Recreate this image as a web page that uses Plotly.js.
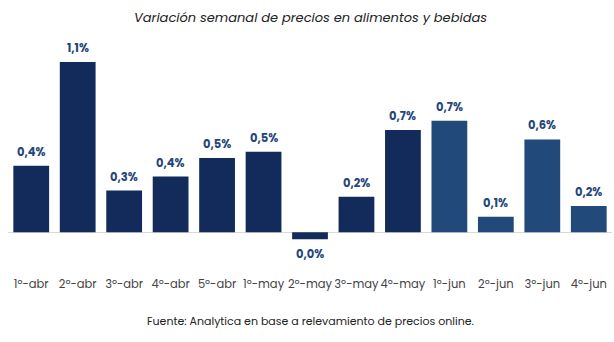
<!DOCTYPE html>
<html>
<head>
<meta charset="utf-8">
<script src="https://cdn.plot.ly/plotly-3.0.1.min.js"></script>
<style>html,body{margin:0;padding:0;background:#fff;}#chart{width:614px;height:342px;}</style>
</head>
<body>
<div id="chart"></div>
<script>
var categories = ["1º-abr","2º-abr","3º-abr","4º-abr","5º-abr","1º-may","2º-may","3º-may","4º-may","1º-jun","2º-jun","3º-jun","4º-jun"];
var values = [0.43, 1.10, 0.27, 0.36, 0.48, 0.52, -0.045, 0.23, 0.66, 0.72, 0.10, 0.60, 0.17];
var months = ["abr","abr","abr","abr","abr","may","may","may","may","jun","jun","jun","jun"];
var titleText = "Variación semanal de precios en alimentos y bebidas";
var sourceText = "Fuente: Analytica en base a relevamiento de precios online.";

var FONT = "Poppins, 'Open Sans', Lato, sans-serif";
var colors = months.map(function(m){ return m === "jun" ? "#214979" : "#122b5a"; });
function fmt(v){ return (Math.round(v*10)/10).toFixed(1).replace('.', ',') + '%'; }

var trace = {
  type: 'bar', x: categories, y: values,
  marker: {color: colors},
  hoverinfo: 'none'
};

var annotations = values.map(function(v, i){
  return {
    x: categories[i], y: v, xref: 'x', yref: 'y',
    text: '<b>' + fmt(v) + '</b>', showarrow: false,
    yanchor: v >= 0 ? 'bottom' : 'top',
    yshift: v >= 0 ? 4 : -5,
    font: {family: FONT, size: 11.5, color: '#25467a'}
  };
});
annotations.push({
  xref: 'paper', yref: 'paper', x: 0.5, y: 1, yanchor: 'middle',
  xanchor: 'center', yshift: 0, showarrow: false,
  text: '<i>' + titleText + '</i>',
  font: {family: FONT, size: 13, color: '#222'}
});
annotations.push({
  xref: 'paper', yref: 'paper', x: 0.5, y: 0, yanchor: 'middle',
  xanchor: 'center', yshift: -53, showarrow: false,
  text: sourceText,
  font: {family: FONT, size: 11, color: '#222'}
});

var layout = {
  width: 614, height: 342,
  margin: {l: 8, r: 2, t: 17, b: 74},
  paper_bgcolor: '#fff', plot_bgcolor: '#fff',
  showlegend: false,
  bargap: 0.23,
  xaxis: {
    type: 'category', showgrid: false, zeroline: false, showline: false,
    ticks: '', ticklabelstandoff: 7, tickangle: 0,
    tickfont: {family: FONT, size: 11.5, color: '#444'}
  },
  yaxis: {
    range: [-0.23, 1.39], showgrid: false, zeroline: true,
    zerolinecolor: '#d9d9d9', zerolinewidth: 1.5,
    showticklabels: false, showline: false, ticks: ''
  },
  annotations: annotations
};

Plotly.newPlot('chart', [trace], layout, {displayModeBar: false, staticPlot: true});
</script>
</body>
</html>
